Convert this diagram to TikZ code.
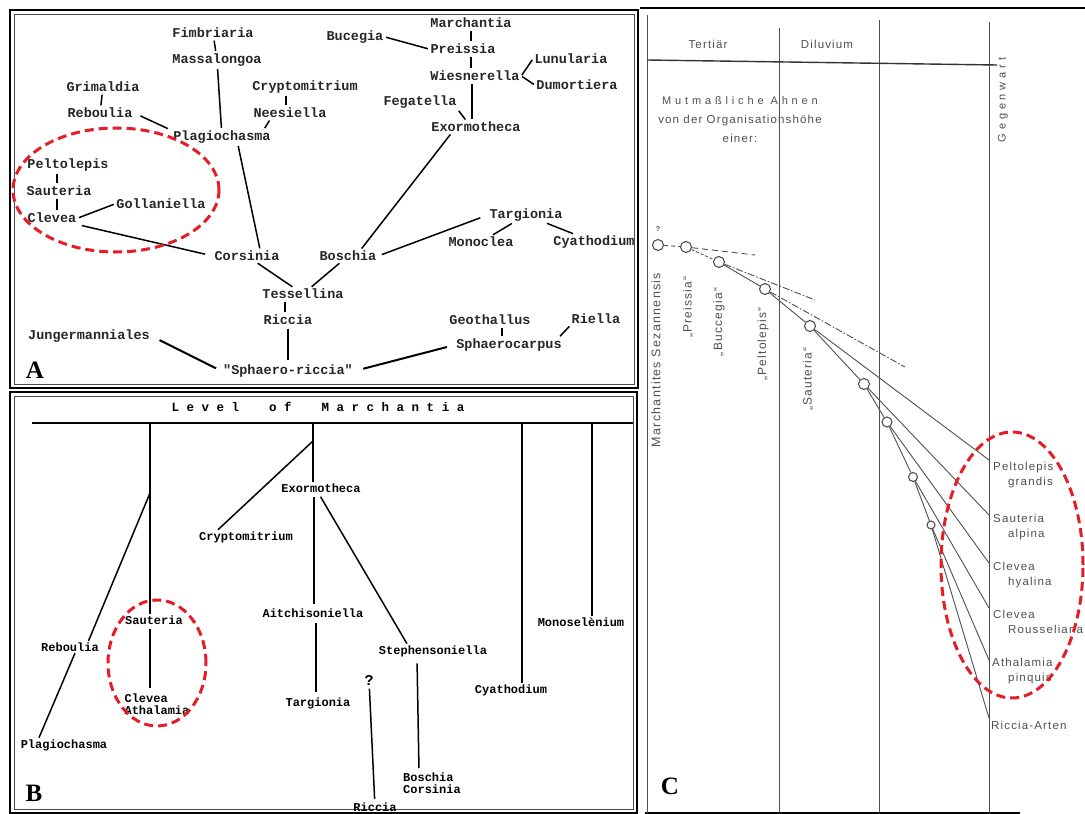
\documentclass[tikz,border=0pt]{standalone}
\usepackage{fontspec}
\setmonofont{Liberation Mono}
\newfontfamily\chartfont[LetterSpace=10]{Liberation Sans}
\newfontfamily\widefont[LetterSpace=35]{Liberation Sans}
\newfontfamily\tagfont{Liberation Serif}
\usetikzlibrary{positioning}
\definecolor{ovalred}{RGB}{228,30,38}
\definecolor{chartgray}{RGB}{80,80,80}

\begin{document}
\begin{tikzpicture}[x=1pt, y=-1pt,
taxa/.style={font=\ttfamily\bfseries\fontsize{13.5}{14}\selectfont, text=black!85, inner sep=1.5pt},
taxb/.style={font=\ttfamily\bfseries\fontsize{12}{11.5}\selectfont, inner sep=1.5pt, align=left},
link/.style={line width=1.5pt, shorten <=1pt, shorten >=1pt},
stem/.style={line width=1.5pt},
oval/.style={draw=ovalred, line width=3pt, dash pattern=on 9pt off 5pt},
frame/.style={line width=2pt},
tag/.style={font=\tagfont\bfseries\fontsize{25}{25}\selectfont},
ctext/.style={font=\chartfont\fontsize{11.5}{15}\selectfont, text=chartgray, inner sep=1pt},
anc/.style={circle, draw=chartgray, line width=1.1pt, fill=white, inner sep=0pt, minimum size=11pt},
twig/.style={draw=chartgray, line width=0.9pt},
lost/.style={draw=chartgray, line width=0.9pt, dash pattern=on 7pt off 2pt on 1.5pt off 2pt}
]
\useasboundingbox[fill=white] (0,0) rectangle (1085,814);

% Panel A
\draw[frame] (10,10) rectangle (638,388);
\draw[line width=0.8pt, black!70] (14,14) rectangle (634,384);

\node[taxa] (fimb) at (213,33) {Fimbriaria};
\node[taxa] (mass) at (217,60) {Massalongoa};
\node[taxa] (grim) at (103,87) {Grimaldia};
\node[taxa] (rebA) at (100,113) {Reboulia};
\node[taxa] (cryA) at (305,87) {Cryptomitrium};
\node[taxa] (nees) at (290,113) {Neesiella};
\node[taxa] (plagA) at (222,137) {Plagiochasma};
\node[taxa] (bucA) at (355,37) {Bucegia};
\node[taxa] (marA) at (471,23) {Marchantia};
\node[taxa] (preA) at (463,49) {Preissia};
\node[taxa] (wies) at (475,76) {Wiesnerella};
\node[taxa] (lunu) at (571,59) {Lunularia};
\node[taxa] (dumo) at (577,85) {Dumortiera};
\node[taxa] (fega) at (420,102) {Fegatella};
\node[taxa] (exoA) at (476,127) {Exormotheca};
\node[taxa] (pelA) at (68,165) {Peltolepis};
\node[taxa] (sauA) at (59,191) {Sauteria};
\node[taxa] (cleA) at (52,218) {Clevea};
\node[taxa] (goll) at (161,204) {Gollaniella};
\node[taxa] (corA) at (247,256) {Corsinia};
\node[taxa] (bosA) at (348,256) {Boschia};
\node[taxa] (tarA) at (526,215) {Targionia};
\node[taxa] (monoc) at (481,242) {Monoclea};
\node[taxa] (cyaA) at (594,242) {Cyathodium};
\node[taxa] (tess) at (303,294) {Tessellina};
\node[taxa] (ricA) at (288,320) {Riccia};
\node[taxa] (jung) at (89,336) {Jungermanniales};
\node[taxa] (sphr) at (288,371) {"Sphaero-riccia"};
\node[taxa] (geot) at (490,320) {Geothallus};
\node[taxa] (sphc) at (509,345) {Sphaerocarpus};
\node[taxa] (riel) at (596,319) {Riella};
\node[tag] (tagA) at (35,370) {A};

\draw[link] (fimb) -- (mass);
\draw[link] (mass) -- (plagA);
\draw[link] (grim) -- (rebA);
\draw[link, shorten <=7pt] (rebA.east) -- ([xshift=-3]plagA.north west);
\draw[link] (cryA.south -| 286,0) -- (nees.north -| 286,0);
\draw[link] ([xshift=-20]nees.south) -- ([xshift=-8]plagA.north east);
\draw[link] ([xshift=16]plagA.south) -- ([xshift=13]corA.north);
\draw[link] (pelA.south -| 57,0) -- (sauA.north -| 57,0);
\draw[link] (sauA.south -| 57,0) -- (cleA.north -| 57,0);
\draw[link] (cleA.east) -- (goll.west);
\draw[link, shorten <=4pt, shorten >=8pt] (cleA.south east) -- (corA.west);
\draw[link] (corA) -- (tess);
\draw[link] (bosA) -- (tess);
\draw[link] (ricA.north -| 285,0) -- (tess.south -| 285,0);
\draw[line width=2.2pt, shorten <=2pt, shorten >=3pt] (ricA) -- (sphr);
\draw[line width=2pt, shorten <=9pt, shorten >=6pt] (jung.east) -- (sphr.west);
\draw[line width=2pt, shorten <=8pt, shorten >=9pt] (sphc.west) -- (sphr.east);
\draw[link] (geot.south -| 502,0) -- (sphc.north -| 502,0);
\draw[link] (riel.south west) -- ([xshift=-4]sphc.north east);
\draw[link] ([xshift=-25]exoA.south) -- ([xshift=13]bosA.north);
\draw[link, shorten <=4pt, shorten >=8pt] (bosA.east) -- (tarA.west);
\draw[link] (tarA) -- (monoc);
\draw[link] (tarA) -- (cyaA);
\draw[link] (bucA.east) -- (preA.west);
\draw[link] (marA) -- (preA.north -| marA);
\draw[link] (preA.south -| marA) -- (wies.north -| marA);
\draw[link] (wies.east) -- (lunu.west);
\draw[link] (wies.east) -- (dumo.west);
\draw[link] (fega.south east) -- ([xshift=-10]exoA.north);
\draw[link] (wies.south -| 472,0) -- (exoA.north -| 472,0);

\draw[oval] (116,190) ellipse [x radius=103pt, y radius=62pt];

% Panel B
\draw[frame] (10,392) rectangle (637,813);
\draw[line width=0.8pt, black!70] (14,396) rectangle (633,809);

\node[font=\ttfamily\bfseries\fontsize{12.5}{13}\selectfont] (levelB) at (318,407) {L e v e l\ \ \ \ o f\ \ \ \ M a r c h a n t i a};
\coordinate (lvlL) at (32,423);
\coordinate (lvlR) at (633,423);
\draw[line width=2.5pt] (lvlL) -- (lvlR);

\coordinate (l1) at (150,423);
\coordinate (l2) at (313,423);
\coordinate (l3) at (522,423);
\coordinate (l4) at (592,423);
\coordinate (kn1) at (150,493);
\coordinate (kn2) at (313,441);

\node[taxb] (sauB) at (154,620) {Sauteria};
\node[taxb] (cleB) at (157,704) {Clevea\\Athalamia};
\node[taxb] (rebB) at (70,647) {Reboulia};
\node[taxb] (plagB) at (64,745) {Plagiochasma};
\node[taxb] (cryB) at (246,537) {Cryptomitrium};
\node[taxb] (exoB) at (321,488) {Exormotheca};
\node[taxb] (aitB) at (313,613) {Aitchisoniella};
\node[taxb] (tarB) at (318,703) {Targionia};
\node[taxb] (steB) at (433,651) {Stephensoniella};
\node[taxb] (bosB) at (432,783) {Boschia\\Corsinia};
\node[taxb, font=\ttfamily\bfseries\fontsize{15}{15}\selectfont] (qB) at (369,680) {?};
\node[taxb] (ricB) at (375,807) {Riccia};
\node[taxb] (cyaB) at (511,690) {Cyathodium};
\node[taxb] (monoB) at (581,622) {Monoselènium};
\node[tag] (tagB) at (34,793) {B};

\draw[stem] (l1) -- (l1 |- sauB.north);
\draw[stem] (kn1) -- ([xshift=-12]rebB.north east);
\draw[stem] ([xshift=5]rebB.south) -- ([xshift=-25]plagB.north);
\draw[stem, shorten <=3pt, shorten >=4pt] (sauB.south -| l1) -- (cleB.north -| l1);
\draw[stem] (l2) -- (exoB.north -| l2);
\draw[stem] (kn2) -- ([xshift=-28]cryB.north);
\draw[stem, shorten <=3pt, shorten >=3pt] (exoB.south -| 314,0) -- (aitB.north -| 314,0);
\draw[stem, shorten <=4pt, shorten >=4pt] (aitB.south -| 316,0) -- (tarB.north -| 316,0);
\draw[stem, shorten <=3pt] ([xshift=-2]exoB.south) -- ([xshift=-26]steB.north);
\draw[stem, shorten <=5pt, shorten >=3pt] ([xshift=-16]steB.south) -- ([xshift=-13]bosB.north);
\draw[stem, shorten <=2pt, shorten >=2pt] (qB) -- (ricB);
\draw[stem] (l3) -- (cyaB.north -| l3);
\draw[stem] (l4) -- (monoB.north -| l4);

\draw[oval] (157,663) ellipse [x radius=49pt, y radius=63pt];

% Panel C
\draw[line width=2.5pt] (640,8) -- (1085,8);
\draw[line width=2.5pt] (645,813) -- (1020,813);
\draw[twig] (647,15) -- (647,813);
\draw[twig] (779,28) -- (779,813);
\draw[twig] (879,20) -- (879,813);
\draw[twig] (989,22) -- (989,813);
\draw[line width=1.4pt, black!80] (647,60) -- (997,65);

\node[ctext] (tert) at (708,44) {Tertiär};
\node[ctext] (dil) at (827,44) {Diluvium};
\node[ctext, align=center, font=\chartfont\fontsize{11.5}{19}\selectfont] (ahnen) at (740,120) {{\widefont\fontsize{11}{19}\selectfont Mutmaßliche Ahnen}\\von der Organisationshöhe\\einer:};
\node[ctext, rotate=90, font=\widefont\fontsize{11}{13}\selectfont] (gegen) at (1003,100) {Gegenwart};

\node[ctext, rotate=90, font=\chartfont\fontsize{12.5}{14}\selectfont] (marc) at (656,360) {Marchantites Sezannensis};
\node[ctext, rotate=90, font=\chartfont\fontsize{12}{14}\selectfont] (presC) at (688,307) {„Preissia“};
\node[ctext, rotate=90, font=\chartfont\fontsize{12}{14}\selectfont] (bucC) at (719,322) {„Buccegia“};
\node[ctext, rotate=90, font=\chartfont\fontsize{12}{14}\selectfont] (pelC) at (763,344) {„Peltolepis“};
\node[ctext, rotate=90, font=\chartfont\fontsize{12}{14}\selectfont] (sauC) at (808,379) {„Sauteria“};
\node[ctext, font=\chartfont\bfseries\fontsize{7}{7}\selectfont] (qC) at (658,229) {?};

\node[anc] (c1) at (658,245) {};
\node[anc] (c2) at (686,247) {};
\node[anc] (c3) at (719,262) {};
\node[anc] (c4) at (765,289) {};
\node[anc] (c5) at (810,326) {};
\node[anc] (c6) at (864,384) {};
\node[anc, minimum size=10pt] (c7) at (887,422) {};
\node[anc, minimum size=9pt] (c8) at (913,477) {};
\node[anc, minimum size=8pt] (c9) at (931,525) {};

\coordinate (x1) at (755,255);
\coordinate (x2) at (815,300);
\coordinate (x3) at (905,367);
\coordinate (e1) at (989,460);
\coordinate (e2) at (989,515);
\coordinate (e3) at (989,563);
\coordinate (e4) at (989,608);
\coordinate (e5) at (989,660);
\coordinate (e6) at (989,718);

\draw[twig, dash pattern=on 4pt off 3pt] (c1) -- (c2);
\draw[twig, dash pattern=on 6pt off 4pt] (c2) -- (x1);
\draw[twig, dash pattern=on 3pt off 2pt] (c2) -- (c3);
\draw[lost] (c3) -- (x2);
\draw[twig] (c3) -- (c4);
\draw[lost] (c4) -- (x3);
\draw[twig] (c4) -- (c5);
\draw[twig] (c5) -- (e1);
\draw[twig] (c5) -- (c6);
\draw[twig] (c6) -- (e2);
\draw[twig] (c6) -- (c7);
\draw[twig] (c7) -- (e3);
\draw[twig] (c7) -- (c8);
\draw[twig] (c8) -- (e4);
\draw[twig] (c8) -- (c9);
\draw[twig] (c9) -- (e5);
\draw[twig] (c9) -- (e6);

\node[ctext, anchor=west, align=left] (spec1) at (992,475) {Peltolepis\\\hspace*{15pt}grandis};
\node[ctext, anchor=west, align=left] (spec2) at (992,527) {Sauteria\\\hspace*{15pt}alpina};
\node[ctext, anchor=west, align=left] (spec3) at (992,575) {Clevea\\\hspace*{15pt}hyalina};
\node[ctext, anchor=west, align=left] (spec4) at (992,622) {Clevea\\\hspace*{15pt}Rousseliana};
\node[ctext, anchor=west, align=left] (spec5) at (991,671) {Athalamia\\\hspace*{16pt}pinquis};
\node[ctext, anchor=west] (spec6) at (990,725) {Riccia-Arten};
\node[tag] (tagC) at (670,786) {C};

\draw[oval] (1012,565) ellipse [x radius=71pt, y radius=133pt];

\end{tikzpicture}
\end{document}
